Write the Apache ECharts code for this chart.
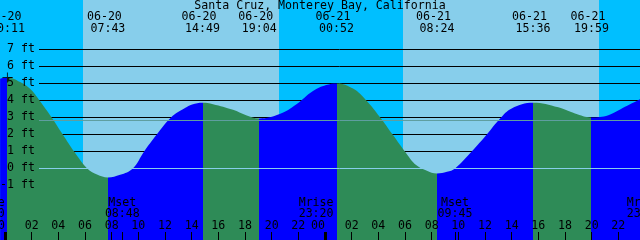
<!DOCTYPE html>
<html><head><meta charset="utf-8">
<script src="https://cdn.jsdelivr.net/npm/echarts@6/dist/echarts.min.js"></script>
<style>html,body{margin:0;padding:0;background:#00BFFF}#c{width:640px;height:240px}</style>
</head><body><div id="c"></div>
<script>
const titleText = 'Santa Cruz, Monterey Bay, California';
// tide extremes
const tideTimes = ['06-20 00:11','06-20 07:43','06-20 14:49','06-20 19:04','06-21 00:52','06-21 08:24','06-21 15:36','06-21 19:59'];
const tideFeet  = [5.35, -0.53, 3.86, 2.94, 5.0, -0.3, 3.86, 3.0];
const tideKinds = ['H','L','H','L','H','L','H','L'];
// tide curve
const curveTimes = ['06-19 23:38','06-20 00:11','06-20 01:08','06-20 01:53','06-20 02:35','06-20 03:30','06-20 04:20','06-20 05:11','06-20 06:10','06-20 06:54','06-20 07:43','06-20 08:38','06-20 09:35','06-20 10:26','06-20 11:23','06-20 12:27','06-20 13:30','06-20 14:02','06-20 14:49','06-20 15:36','06-20 17:06','06-20 18:05','06-20 19:04','06-20 20:36','06-20 21:50','06-20 23:06','06-21 00:05','06-21 00:52','06-21 02:06','06-21 03:06','06-21 04:06','06-21 05:06','06-21 06:06','06-21 06:50','06-21 07:36','06-21 08:24','06-21 09:09','06-21 09:45','06-21 11:00','06-21 12:08','06-21 13:08','06-21 14:00','06-21 15:36','06-21 17:30','06-21 18:45','06-21 19:59','06-21 21:15','06-21 22:30','06-21 23:38'];
const curveFeet  = [5.28, 5.35, 5.08, 4.68, 4.0, 3.0, 2.0, 1.0, 0.0, -0.36, -0.53, -0.38, 0.0, 1.0, 2.0, 3.0, 3.55, 3.76, 3.86, 3.78, 3.45, 3.13, 2.94, 3.2, 3.76, 4.55, 4.9, 5.0, 4.7, 4.0, 3.04, 1.96, 0.88, 0.2, -0.12, -0.3, -0.2, 0.0, 1.0, 2.0, 2.94, 3.53, 3.86, 3.59, 3.23, 3.0, 3.13, 3.62, 4.07];
const sunriseTimes = ['06-20 05:51','06-21 05:51'];
const sunsetTimes  = ['06-20 20:33','06-21 20:33'];
const moonNames = ['Mrise','Mset','Mrise','Mset','Mrise'];
const moonTimes = ['06-19 22:40','06-20 08:48','06-20 23:20','06-21 09:45','06-21 23:56'];
const hourTicks = [2,4,6,8,10,12,14,16,18,20,22,26,28,30,32,34,36,38,40,42,44,46];
const dayTicks = [0,24];
const feetLabels = [-1,0,1,2,3,4,5,6,7];
const gridFeet = [1,2,3,4,5,6,7];
const meanLevel = 2.82;
const markerTimes = ['06-20 00:11'];
const markerFeet = [5.35];

function hrs(s){ const m = s.match(/(\d+)-(\d+) (\d+):(\d+)/); return (m[2]-20)*24 + (+m[3]) + (+m[4])/60; }
const two = n => String(n).padStart(2,'0');
const hhmm = s => s.split(' ')[1];

const X_MIN = -3.375, X_MAX = 50.625, Y_MIN = -4.212, Y_MAX = 9.906;
const FONT = 'DejaVu Sans Mono', FS = 11.6;
const tideHours = tideTimes.map(hrs);
const moonHours = moonTimes.map(hrs);
const msetHours = moonHours.filter((h,i)=>moonNames[i]==='Mset');
const GREEN = '#2E8B57', BLUE = '#0000FF';

const pieces = [];
for (let i=0;i<tideKinds.length-1;i++) if (tideKinds[i]==='H') pieces.push({gte: tideHours[i], lt: tideHours[i+1], color: GREEN});

const baseX = {gridIndex:0, type:'value', min:X_MIN, max:X_MAX, z:4,
  axisLine:{show:false,onZero:false}, splitLine:{show:false}};
const lab = {fontFamily:FONT, fontSize:FS, color:'#000'};
const find = (arr,v)=>arr.findIndex(h=>Math.abs(h-v)<1e-6);

const chart = echarts.init(document.getElementById('c'), null, {renderer:'canvas'});
chart.setOption({
  animation:false,
  backgroundColor:'#00BFFF',
  title:{text:titleText, left:'center', top:0, padding:0, textStyle:{fontFamily:FONT, fontSize:FS, fontWeight:'normal', color:'#000', lineHeight:12}},
  grid:[{left:-40,right:-40,top:0,bottom:0,outerBoundsMode:'none',containLabel:false},
        {left:39,right:0,top:0,bottom:0,outerBoundsMode:'none',containLabel:false}],
  visualMap:{type:'piecewise', show:false, dimension:0, seriesIndex:0, pieces:pieces, outOfRange:{color:BLUE}},
  xAxis:[
    Object.assign({}, baseX, {position:'bottom',
      axisTick:{show:true, inside:true, length:8, customValues:hourTicks, lineStyle:{color:'#000',width:1}},
      axisLabel:Object.assign({inside:true, margin:8, lineHeight:12, customValues:hourTicks, formatter:v=>two(((Math.round(v)%24)+24)%24)}, lab)}),
    Object.assign({}, baseX, {position:'bottom',
      axisTick:{show:true, inside:true, length:8, customValues:dayTicks, lineStyle:{color:'#000',width:3}},
      axisLabel:Object.assign({inside:true, margin:8, lineHeight:12, align:'right', customValues:dayTicks, formatter:v=>two(((Math.round(v)%24)+24)%24)}, lab)}),
    Object.assign({}, baseX, {position:'bottom',
      axisTick:{show:true, inside:true, length:8, customValues:msetHours, lineStyle:{color:'#000',width:1}},
      axisLabel:Object.assign({inside:true, margin:20, lineHeight:11.5, customValues:moonHours, formatter:v=>{const i=find(moonHours,v); return moonNames[i]+'\n'+hhmm(moonTimes[i]);}}, lab)}),
    Object.assign({}, baseX, {position:'top',
      axisTick:{show:false},
      axisLabel:Object.assign({inside:true, margin:10.5, lineHeight:12.5, customValues:tideHours, formatter:v=>{const i=find(tideHours,v); const p=tideTimes[i].split(' '); return p[0]+' \n'+p[1];}}, lab)}),
    {gridIndex:1, type:'value', min:0, max:1, show:false, axisLine:{onZero:false}}
  ],
  yAxis:[
    {gridIndex:0, type:'value', min:Y_MIN, max:Y_MAX, show:false, axisLine:{onZero:false}},
    {gridIndex:1, type:'value', min:Y_MIN, max:Y_MAX, z:4, axisLine:{show:false,onZero:false}, axisTick:{show:false}, splitLine:{show:false},
      axisLabel:Object.assign({margin:4, customValues:feetLabels, formatter:v=>v+' ft'}, lab)}
  ],
  series:[
    {type:'line', xAxisIndex:0, yAxisIndex:0, z:2, smooth:0.4, symbol:'none', silent:true,
      data: curveTimes.map((t,i)=>[hrs(t), curveFeet[i]]),
      lineStyle:{width:0}, areaStyle:{opacity:1, origin:'start'},
      markArea:{silent:true, z:0, itemStyle:{color:'#87CEEB'},
        data: sunriseTimes.map((s,i)=>[{xAxis:hrs(s)},{xAxis:hrs(sunsetTimes[i])}])}},
    {type:'line', xAxisIndex:4, yAxisIndex:1, data:[], silent:true,
      markLine:{silent:true, z:1, symbol:['none','none'], label:{show:false}, lineStyle:{color:'#000', width:1, type:'solid'},
        data: gridFeet.map(v=>({yAxis:v}))}},
    {type:'line', xAxisIndex:4, yAxisIndex:1, data:[], silent:true,
      markLine:{silent:true, z:3, symbol:['none','none'], label:{show:false}, lineStyle:{width:1, type:'solid'},
        data:[{yAxis:meanLevel, lineStyle:{color:'#5F9EA0'}},{yAxis:0, lineStyle:{color:'#87CEEB'}}]}},
    {type:'scatter', xAxisIndex:0, yAxisIndex:0, z:5, silent:true,
      symbol:'path://M0,4.5H10V5.5H0Z M4.5,0H5.5V10H4.5Z', symbolSize:10, itemStyle:{color:'#000'},
      data: markerTimes.map((t,i)=>[hrs(t), markerFeet[i]])}
  ]
});
</script></body></html>
